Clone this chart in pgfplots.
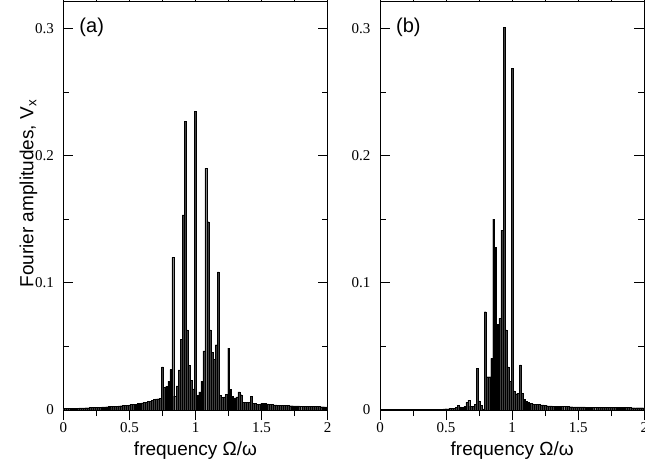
\documentclass[border=0pt]{standalone}
\usepackage{fontspec}
\setmainfont{Liberation Sans}
\newfontfamily\tickfont{Liberation Serif}
\usepackage{pgfplots}
\usepackage{pgfplotstable}
\pgfplotsset{compat=1.18}

% panel (a): Fourier amplitudes V_x
\pgfplotstableread{
f v
0 0.0012
0.0156 0.0012
0.0313 0.0013
0.0469 0.0013
0.0625 0.0014
0.0781 0.0014
0.0938 0.0015
0.1094 0.0015
0.125 0.0016
0.1406 0.0016
0.1563 0.0017
0.1719 0.0018
0.1875 0.0018
0.2031 0.0019
0.2188 0.0020
0.2344 0.0020
0.25 0.0021
0.2656 0.0022
0.2813 0.0023
0.2969 0.0024
0.3125 0.0025
0.3281 0.0026
0.3438 0.0027
0.3594 0.0028
0.375 0.0029
0.3906 0.0030
0.4063 0.0031
0.4219 0.0033
0.4375 0.0034
0.4531 0.0036
0.4688 0.0037
0.4844 0.0039
0.5 0.0041
0.5156 0.0043
0.5313 0.0045
0.5469 0.0047
0.5625 0.0050
0.5781 0.0053
0.5938 0.0056
0.6094 0.0059
0.625 0.0062
0.6406 0.0066
0.6563 0.0070
0.6719 0.0078
0.6875 0.0084
0.7031 0.0088
0.7188 0.0089
0.7344 0.0090
0.75 0.0339
0.7656 0.0177
0.7813 0.0188
0.7969 0.0227
0.8125 0.0318
0.8281 0.1200
0.8438 0.0110
0.8594 0.0190
0.875 0.0315
0.8906 0.0557
0.9063 0.1535
0.9219 0.2268
0.9375 0.0630
0.9531 0.0350
0.9688 0.0234
0.9844 0.0167
1 0.2346
1.0156 0.0117
1.0313 0.0143
1.0469 0.0227
1.0625 0.0464
1.0781 0.1900
1.0938 0.1480
1.1094 0.0630
1.125 0.0453
1.1406 0.0400
1.1563 0.0513
1.1719 0.1086
1.1875 0.0117
1.2031 0.0099
1.2188 0.0104
1.2344 0.0122
1.25 0.0487
1.2656 0.0161
1.2813 0.0110
1.2969 0.0096
1.3125 0.0104
1.3281 0.0143
1.3438 0.0120
1.3594 0.0060
1.375 0.0060
1.3906 0.0060
1.4063 0.0060
1.4219 0.0110
1.4375 0.0052
1.4531 0.0050
1.4688 0.0047
1.4844 0.0045
1.5 0.0053
1.5156 0.0052
1.5313 0.0050
1.5469 0.0048
1.5625 0.0046
1.5781 0.0045
1.5938 0.0040
1.6094 0.0040
1.625 0.0039
1.6406 0.0038
1.6563 0.0037
1.6719 0.0036
1.6875 0.0036
1.7031 0.0035
1.7188 0.0034
1.7344 0.0034
1.75 0.0033
1.7656 0.0032
1.7813 0.0032
1.7969 0.0031
1.8125 0.0031
1.8281 0.0030
1.8438 0.0030
1.8594 0.0029
1.875 0.0029
1.8906 0.0028
1.9063 0.0028
1.9219 0.0027
1.9375 0.0027
1.9531 0.0026
1.9688 0.0026
1.9844 0.0025
2 0.0025
}\spectrumA

% panel (b)
\pgfplotstableread{
f v
0 0.0003
0.0156 0.0003
0.0313 0.0003
0.0469 0.0003
0.0625 0.0003
0.0781 0.0003
0.0938 0.0003
0.1094 0.0003
0.125 0.0003
0.1406 0.0003
0.1563 0.0004
0.1719 0.0004
0.1875 0.0004
0.2031 0.0004
0.2188 0.0004
0.2344 0.0004
0.25 0.0004
0.2656 0.0004
0.2813 0.0004
0.2969 0.0004
0.3125 0.0005
0.3281 0.0005
0.3438 0.0005
0.3594 0.0005
0.375 0.0005
0.3906 0.0005
0.4063 0.0007
0.4219 0.0007
0.4375 0.0007
0.4531 0.0007
0.4688 0.0007
0.4844 0.0009
0.5 0.0010
0.5156 0.0010
0.5313 0.0012
0.5469 0.0015
0.5625 0.0012
0.5781 0.0020
0.5938 0.0035
0.6094 0.0025
0.625 0.0020
0.6406 0.0030
0.6563 0.0060
0.6719 0.0075
0.6875 0.0030
0.7031 0.0030
0.7188 0.0047
0.7344 0.0328
0.75 0.0071
0.7656 0.0039
0.7813 0.0008
0.7969 0.0773
0.8125 0.0262
0.8281 0.0262
0.8438 0.0406
0.8594 0.1500
0.875 0.1280
0.8906 0.0676
0.9063 0.0720
0.9219 0.1415
0.9375 0.3008
0.9531 0.0630
0.9688 0.0340
0.9844 0.0223
1 0.2685
1.0156 0.0150
1.0313 0.0128
1.0469 0.0132
1.0625 0.0354
1.0781 0.0130
1.0938 0.0085
1.1094 0.0070
1.125 0.0060
1.1406 0.0052
1.1563 0.0049
1.1719 0.0047
1.1875 0.0045
1.2031 0.0043
1.2188 0.0041
1.2344 0.0040
1.25 0.0036
1.2656 0.0034
1.2813 0.0033
1.2969 0.0032
1.3125 0.0031
1.3281 0.0030
1.3438 0.0029
1.3594 0.0029
1.375 0.0028
1.3906 0.0028
1.4063 0.0027
1.4219 0.0027
1.4375 0.0026
1.4531 0.0026
1.4688 0.0025
1.4844 0.0025
1.5 0.0025
1.5156 0.0024
1.5313 0.0024
1.5469 0.0024
1.5625 0.0023
1.5781 0.0023
1.5938 0.0023
1.6094 0.0023
1.625 0.0022
1.6406 0.0022
1.6563 0.0022
1.6719 0.0022
1.6875 0.0021
1.7031 0.0021
1.7188 0.0021
1.7344 0.0021
1.75 0.0020
1.7656 0.0020
1.7813 0.0020
1.7969 0.0020
1.8125 0.0020
1.8281 0.0019
1.8438 0.0019
1.8594 0.0019
1.875 0.0019
1.8906 0.0019
1.9063 0.0018
1.9219 0.0018
1.9375 0.0018
1.9531 0.0018
1.9688 0.0018
1.9844 0.0018
2 0.0018
}\spectrumB

\pgfplotsset{
  fourier/.style={
    scale only axis, width=264.4bp, height=408.3bp,
    xmin=0, xmax=2, ymin=0, ymax=0.321,
    xtick={0,0.5,1,1.5,2}, ytick={0,0.1,0.2,0.3},
    minor x tick num=1, minor y tick num=1,
    major tick length=10bp, minor tick length=6bp,
    tick style={black, line width=0.8bp},
    axis line style={line width=1bp},
    /pgf/number format/assume math mode=true,
    tick label style={font=\tickfont\fontsize{15bp}{15bp}\selectfont},
    yticklabel style={xshift=-6bp},
    xticklabel style={yshift=1bp},
    label style={font=\fontsize{19bp}{22bp}\selectfont},
    xlabel={frequency Ω/ω},
    xlabel style={at={(axis description cs:0.5,0)}, anchor=base, yshift=-45bp},
    ybar, bar width=0.0135,
  },
  bars/.style={fill=black!75, draw=black, line width=0.3bp},
}

\begin{document}
\begin{tikzpicture}
\begin{axis}[fourier, at={(63.3bp,49bp)}, anchor=south west,
    ylabel={Fourier amplitudes, V\textsubscript{x}},
    ylabel style={at={(axis description cs:-0.132,0.53)}, anchor=center}]
  \addplot[bars] table[x=f, y=v] {\spectrumA};
  \node[anchor=west, inner sep=0pt, font=\fontsize{20bp}{20bp}\selectfont,
        xshift=16bp, yshift=-26bp] at (rel axis cs:0,1) {(a)};
\end{axis}
\begin{axis}[fourier, at={(380bp,49bp)}, anchor=south west]
  \addplot[bars] table[x=f, y=v] {\spectrumB};
  \node[anchor=west, inner sep=0pt, font=\fontsize{20bp}{20bp}\selectfont,
        xshift=16bp, yshift=-26bp] at (rel axis cs:0,1) {(b)};
\end{axis}
\pgfresetboundingbox
\path[use as bounding box] (0,0) rectangle (645bp,459bp);
\end{tikzpicture}
\end{document}
